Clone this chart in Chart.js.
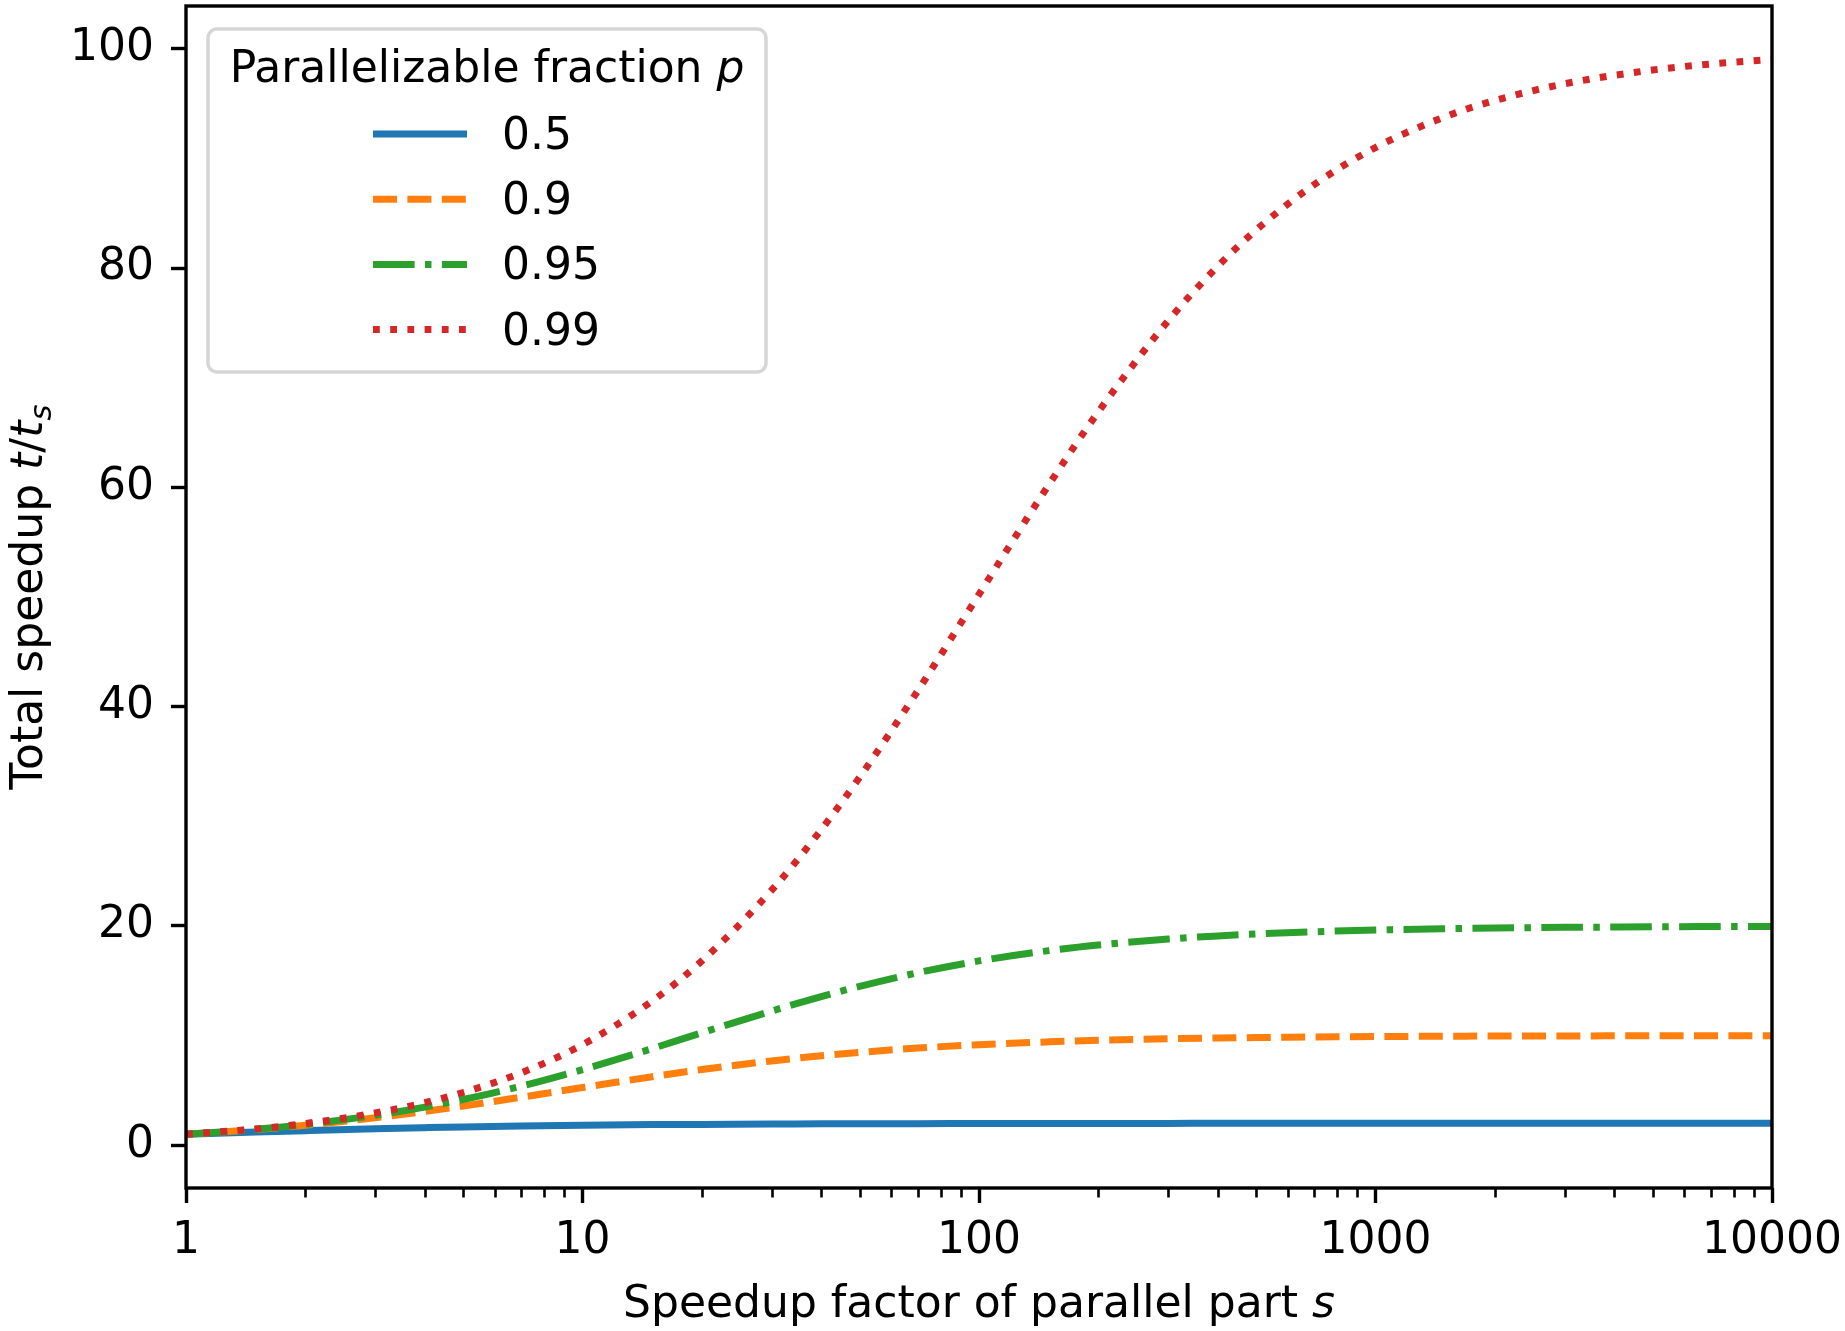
<!DOCTYPE html>
<html>
<head>
<meta charset="utf-8">
<script src="https://cdn.jsdelivr.net/npm/chart.js@4/dist/chart.umd.min.js"></script>
<style>
body{margin:0;background:#fff;}
canvas{display:block;}
</style>
</head>
<body>
<canvas id="grafico" width="1845" height="1331"></canvas>
<script>

// ==============================
// DATOS
// ==============================

const factorS = [1, 1.5, 2, 3, 4, 5, 7, 10, 15, 20, 30, 40, 50, 70, 100, 150, 200, 300, 400, 500, 700, 1000, 1500, 2000, 3000, 5000, 7000, 10000];

const speedup050 = [1.00, 1.20, 1.33, 1.50, 1.60, 1.67, 1.75, 1.82, 1.88, 1.90, 1.94, 1.95, 1.96, 1.97, 1.98, 1.99, 1.99, 1.99, 2.00, 2.00, 2.00, 2.00, 2.00, 2.00, 2.00, 2.00, 2.00, 2.00];
const speedup090 = [1.00, 1.43, 1.82, 2.50, 3.08, 3.57, 4.38, 5.26, 6.25, 6.90, 7.69, 8.16, 8.47, 8.86, 9.17, 9.43, 9.57, 9.71, 9.78, 9.82, 9.87, 9.91, 9.94, 9.96, 9.97, 9.98, 9.99, 9.99];
const speedup095 = [1.00, 1.46, 1.90, 2.73, 3.48, 4.17, 5.38, 6.90, 8.82, 10.26, 12.24, 13.56, 14.49, 15.73, 16.81, 17.75, 18.26, 18.81, 19.09, 19.27, 19.47, 19.63, 19.75, 19.81, 19.87, 19.92, 19.95, 19.96];
const speedup099 = [1.00, 1.49, 1.98, 2.94, 3.88, 4.81, 6.60, 9.17, 13.16, 16.81, 23.26, 28.78, 33.56, 41.42, 50.25, 60.24, 66.89, 75.19, 80.16, 83.47, 87.61, 90.99, 93.81, 95.28, 96.81, 98.06, 98.61, 99.02];

const etiquetas = ["0.5", "0.9", "0.95", "0.99"];
const ticksX = [1, 10, 100, 1000, 10000];
const ticksY = [0, 20, 40, 60, 80, 100];

// ==============================
// ESTILO
// ==============================

const FUENTE = "DejaVu Sans";
const TAM = 44;
const GROSOR = 7;
const colores = ["#1f77b4", "#ff7f0e", "#2ca02c", "#d62728"];
const trazos = [[], [24, 10.4], [41.6, 10.4, 6.5, 10.4], [6.8, 10.4]];

function puntos(ys){
  return factorS.map((s, i) => ({x: s, y: ys[i]}));
}

const series = [speedup050, speedup090, speedup095, speedup099];

const datasets = series.map((ys, i) => ({
  label: etiquetas[i],
  data: puntos(ys),
  borderColor: colores[i],
  backgroundColor: colores[i],
  borderWidth: GROSOR,
  borderDash: trazos[i],
  borderCapStyle: "butt",
  borderJoinStyle: "round",
  pointRadius: 0,
  fill: false,
  cubicInterpolationMode: "monotone",
  order: 3 - i
}));

// ==============================
// PLUGIN: ejes, titulos, leyenda
// ==============================

function textoMixto(ctx, partes, x, y){
  // partes: [{t, italic, sub}]
  let ancho = 0;
  partes.forEach(p => {
    ctx.font = (p.italic ? "italic " : "") + (p.sub ? TAM * 0.7 : TAM) + "px '" + FUENTE + "'";
    p.w = ctx.measureText(p.t).width;
    ancho += p.w;
  });
  let cx = x - ancho / 2;
  partes.forEach(p => {
    ctx.font = (p.italic ? "italic " : "") + (p.sub ? TAM * 0.7 : TAM) + "px '" + FUENTE + "'";
    ctx.fillText(p.t, cx, y + (p.sub ? 9 : 0));
    cx += p.w;
  });
}

const extras = {
  id: "extras",
  afterDatasetsDraw(chart){
    const ctx = chart.ctx;
    const a = chart.chartArea;
    const ex = chart.scales.x;

    ctx.save();

    // ticks menores eje x
    ctx.strokeStyle = "#000";
    ctx.lineWidth = 2.6;
    for (let d = 1; d < 10000; d *= 10){
      for (let k = 2; k <= 9; k++){
        const px = Math.round(ex.getPixelForValue(k * d)) + 0.5;
        ctx.beginPath();
        ctx.moveTo(px, a.bottom);
        ctx.lineTo(px, a.bottom + 9.5);
        ctx.stroke();
      }
    }

    // marco
    ctx.lineWidth = 3.4;
    ctx.strokeStyle = "#000";
    ctx.strokeRect(a.left, a.top, a.right - a.left, a.bottom - a.top);

    // titulos de ejes
    ctx.fillStyle = "#000";
    ctx.textBaseline = "alphabetic";
    ctx.textAlign = "left";
    textoMixto(ctx, [
      {t: "Speedup factor of parallel part "},
      {t: "s", italic: true}
    ], (a.left + a.right) / 2, 1317);

    ctx.save();
    ctx.translate(42, 597);
    ctx.rotate(-Math.PI / 2);
    textoMixto(ctx, [
      {t: "Total speedup "},
      {t: "t", italic: true},
      {t: "/"},
      {t: "t", italic: true},
      {t: "s", italic: true, sub: true}
    ], 0, 0);
    ctx.restore();

    // leyenda
    ctx.beginPath();
    ctx.roundRect(208, 29, 558, 343, 9);
    ctx.fillStyle = "rgba(255,255,255,0.8)";
    ctx.fill();
    ctx.lineWidth = 3.5;
    ctx.strokeStyle = "rgba(204,204,204,0.8)";
    ctx.stroke();

    ctx.fillStyle = "#000";
    textoMixto(ctx, [
      {t: "Parallelizable fraction "},
      {t: "p", italic: true}
    ], 487, 82);

    chart.data.datasets.forEach((ds, i) => {
      const y = 134 + 65.2 * i;
      ctx.beginPath();
      ctx.setLineDash(ds.borderDash);
      ctx.lineCap = "butt";
      ctx.lineWidth = GROSOR;
      ctx.strokeStyle = ds.borderColor;
      ctx.moveTo(373, y);
      ctx.lineTo(467, y);
      ctx.stroke();
      ctx.setLineDash([]);
      ctx.fillStyle = "#000";
      ctx.font = TAM + "px '" + FUENTE + "'";
      ctx.textAlign = "left";
      ctx.fillText(ds.label, 502, y + 15);
    });

    ctx.restore();
  }
};

// ==============================
// GRAFICO
// ==============================

const ctxGrafico = document.getElementById("grafico").getContext("2d");

let grafico = new Chart(ctxGrafico, {

type: "line",

data: { datasets: datasets },

options: {
  responsive: false,
  animation: false,
  devicePixelRatio: 1,
  layout: { padding: { left: 0, top: 6, right: 73, bottom: 0 } },
  plugins: {
    legend: { display: false },
    tooltip: { enabled: false }
  },
  scales: {
    x: {
      type: "logarithmic",
      min: 1,
      max: 10000,
      afterBuildTicks: s => { s.ticks = ticksX.map(v => ({value: v})); },
      afterFit: s => {
        s.height = 1331 - 1188;
        s.paddingLeft = 0;
        s.paddingRight = 0;
      },
      ticks: {
        color: "#000",
        font: { family: FUENTE, size: TAM },
        padding: 12,
        maxRotation: 0,
        autoSkip: false,
        callback: v => String(v)
      },
      grid: {
        drawOnChartArea: false,
        drawTicks: true,
        tickLength: 15,
        tickWidth: 3.4,
        tickColor: "#000"
      },
      border: { display: false }
    },
    y: {
      type: "linear",
      min: -3.9,
      max: 103.9,
      afterBuildTicks: s => { s.ticks = ticksY.map(v => ({value: v})); },
      afterFit: s => {
        s.width = 186;
        s.paddingTop = 0;
        s.paddingBottom = 0;
      },
      ticks: {
        color: "#000",
        font: { family: FUENTE, size: TAM },
        padding: 17
      },
      grid: {
        drawOnChartArea: false,
        drawTicks: true,
        tickLength: 15,
        tickWidth: 3.4,
        tickColor: "#000"
      },
      border: { display: false }
    }
  }
},

plugins: [extras]

});

</script>
</body>
</html>
